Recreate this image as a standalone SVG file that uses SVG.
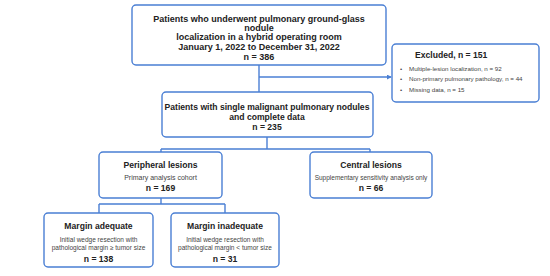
<svg xmlns="http://www.w3.org/2000/svg" width="550" height="276" viewBox="0 0 550 276">
<defs>
<style>
.box{fill:#fff;stroke:#4a7fd4;stroke-width:1.4}
.ln{fill:none;stroke:#4a7fd4;stroke-width:1.4}
text{font-family:"Liberation Sans",Arial,sans-serif;fill:#222;text-anchor:middle}
.b{font-weight:bold;font-size:8.6px}
.t{font-weight:bold;font-size:9px}
.s{font-size:7px;fill:#444}
.xs{font-size:6.5px;fill:#444}
.bl{font-size:6.2px;fill:#444;text-anchor:start}
</style>
<marker id="arr" viewBox="0 0 6 6" refX="5" refY="3" markerWidth="5" markerHeight="5" orient="auto" markerUnits="userSpaceOnUse">
<path d="M0,0 L6,3 L0,6 z" fill="#4a7fd4"/>
</marker>
</defs>
<rect width="550" height="276" fill="#fff"/>
<g id="connectors">
<path class="ln" d="M259,65 V92"/>
<path class="ln" d="M259,77 H391" marker-end="url(#arr)"/>
<path class="ln" d="M267,137 V149 M161,149 H370 M161,149 V152 M370,149 V152"/>
<path class="ln" d="M161,198 V204 M99,204 H225 M99,204 V213 M225,204 V213"/>
</g>
<g id="n1">
<rect class="box" x="132" y="5" width="254" height="60" rx="4"/>
<text class="t" x="259" y="21.5">Patients who underwent pulmonary ground-glass</text>
<text class="t" x="259" y="30.5">nodule</text>
<text class="t" x="259" y="40">localization in a hybrid operating room</text>
<text class="t" x="259" y="50">January 1, 2022 to December 31, 2022</text>
<text class="t" x="259" y="59.5">n = 386</text>
</g>
<g id="excluded">
<rect class="box" x="392" y="44" width="147" height="58" rx="4"/>
<text class="b" x="415" y="58" style="text-anchor:start">Excluded, n = 151</text>
<text class="bl" x="400" y="70.5">•</text>
<text class="bl" x="409" y="70.5">Multiple-lesion localization, n = 92</text>
<text class="bl" x="400" y="81">•</text>
<text class="bl" x="409" y="81">Non-primary pulmonary pathology, n = 44</text>
<text class="bl" x="400" y="91.5">•</text>
<text class="bl" x="409" y="91.5">Missing data, n = 15</text>
</g>
<g id="n2">
<rect class="box" x="162" y="92" width="211" height="45" rx="4"/>
<text class="b" x="267" y="110">Patients with single malignant pulmonary nodules</text>
<text class="b" x="267" y="119.5">and complete data</text>
<text class="b" x="267" y="129.5">n = 235</text>
</g>
<g id="peripheral">
<rect class="box" x="99" y="152" width="123" height="46" rx="4"/>
<text class="b" x="160.5" y="168">Peripheral lesions</text>
<text class="s" x="160.5" y="179.5">Primary analysis cohort</text>
<text class="b" x="160.5" y="191">n = 169</text>
</g>
<g id="central">
<rect class="box" x="310" y="152" width="122" height="46" rx="4"/>
<text class="b" x="371" y="168">Central lesions</text>
<text class="xs" x="371" y="179.5">Supplementary sensitivity analysis only</text>
<text class="b" x="371" y="191">n = 66</text>
</g>
<g id="adequate">
<rect class="box" x="44" y="213" width="109" height="54" rx="4"/>
<text class="b" x="98.5" y="229">Margin adequate</text>
<text class="xs" x="98.5" y="241.5">Initial wedge resection with</text>
<text class="xs" x="98.5" y="249.5">pathological margin ≥ tumor size</text>
<text class="b" x="98.5" y="262">n = 138</text>
</g>
<g id="inadequate">
<rect class="box" x="171" y="213" width="108" height="54" rx="4"/>
<text class="b" x="225" y="229">Margin inadequate</text>
<text class="xs" x="225" y="241.5">Initial wedge resection with</text>
<text class="xs" x="225" y="249.5">pathological margin &lt; tumor size</text>
<text class="b" x="225" y="262">n = 31</text>
</g>
</svg>
